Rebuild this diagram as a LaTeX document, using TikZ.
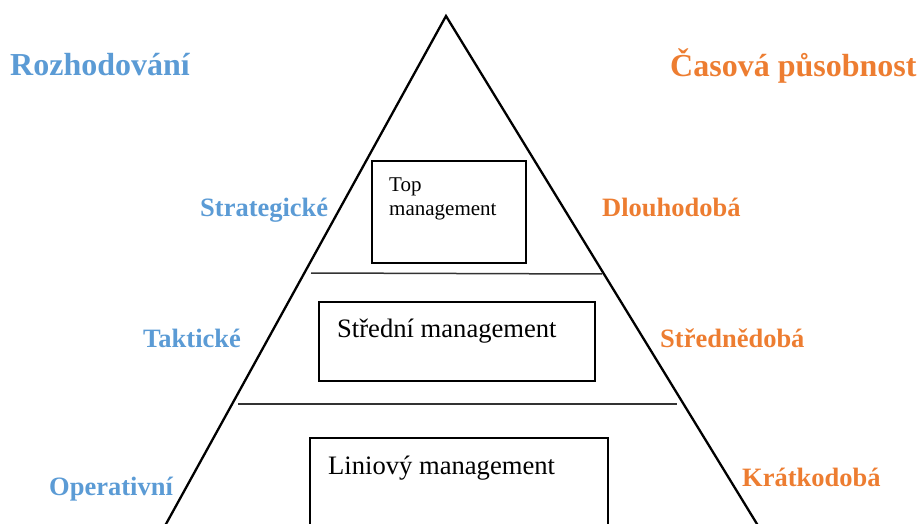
\documentclass[tikz,border=0pt]{standalone}
\usepackage{fontspec}
\setmainfont{Liberation Serif}
\usetikzlibrary{positioning}

\definecolor{decblue}{RGB}{91,155,213}
\definecolor{timeorange}{RGB}{237,125,49}

\begin{document}
\begin{tikzpicture}[
    x=1pt, y=-1pt,
    level box/.style={
        draw=black, rectangle, line width=2pt, inner sep=0pt
    },
    box txt/.style={anchor=base west, inner sep=0pt, font=\fontsize{26.6}{30}\selectfont},
    box txt small/.style={anchor=base west, inner sep=0pt, font=\fontsize{21}{24}\selectfont},
    title lbl/.style={anchor=base west, inner sep=0pt, font=\fontsize{32}{36}\selectfont\bfseries},
    dec lbl/.style={anchor=base west, inner sep=0pt, text=decblue, font=\fontsize{26.5}{30}\selectfont\bfseries},
    time lbl/.style={anchor=base west, inner sep=0pt, text=timeorange, font=\fontsize{26.5}{30}\selectfont\bfseries},
    divider/.style={line width=1.5pt, draw=black!80}
]

\useasboundingbox (0,0) rectangle (922,524);
\clip (0,0) rectangle (922,524);

% ------------------------------------------------------------------------------
% 1. PYRAMIDA
% ------------------------------------------------------------------------------
\coordinate (apex) at (446,16);
\coordinate (baseL) at (157.2,540);
\coordinate (baseR) at (766.8,540);
\draw[line width=2.3pt, line join=miter] (baseL) -- (apex) -- (baseR);

% Dělicí čáry mezi úrovněmi
\coordinate (divA1) at (311,273);
\coordinate (divA2) at (602,274);
\coordinate (divB1) at (238,404);
\coordinate (divB2) at (677,404);
\draw[divider] (divA1) -- (divA2);
\draw[divider] (divB1) -- (divB2);

% ------------------------------------------------------------------------------
% 2. ÚROVNĚ MANAGEMENTU
% ------------------------------------------------------------------------------
\node[level box, minimum width=154pt, minimum height=102pt] (topbox) at (449,212) {};
\node[box txt small] (toptxt) at (389,192) {Top};
\node[box txt small] (toptxtb) at (389,215) {management};

\node[level box, minimum width=276pt, minimum height=79pt] (midbox) at (457,341.5) {};
\node[box txt] (midtxt) at (337,337) {Střední management};

\node[level box, minimum width=298pt, minimum height=140pt] (lowbox) at (459,508) {};
\node[box txt] (lowtxt) at (328,474) {Liniový management};

% ------------------------------------------------------------------------------
% 3. POPISKY (Rozhodování vlevo, Časová působnost vpravo)
% ------------------------------------------------------------------------------
\node[title lbl, text=decblue] (decide) at (10,76) {Rozhodování};
\node[title lbl, text=timeorange] (scope) at (670,77) {Časová působnost};

\node[dec lbl] (strat) at (200,217) {Strategické};
\node[dec lbl] (takt) at (143,347) {Taktické};
\node[dec lbl] (oper) at (49,495) {Operativní};

\node[time lbl] (longt) at (602,217) {Dlouhodobá};
\node[time lbl] (midt) at (660,347) {Střednědobá};
\node[time lbl] (shortt) at (742,486) {Krátkodobá};

\end{tikzpicture}
\end{document}
